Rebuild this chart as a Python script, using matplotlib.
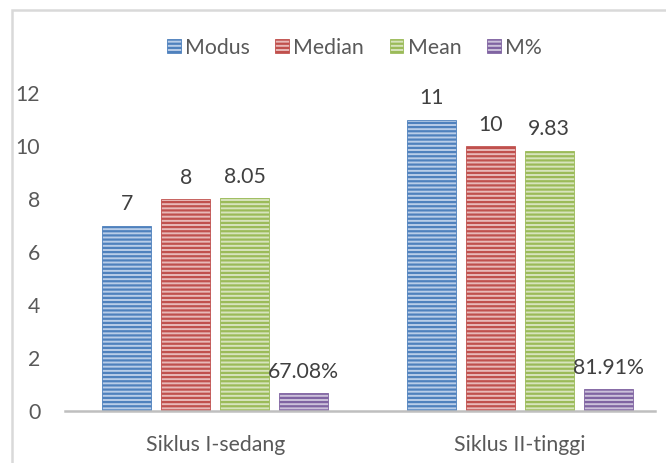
import matplotlib
matplotlib.use("Agg")
import matplotlib.pyplot as plt
from matplotlib.patches import Rectangle
import numpy as np

categories = ["Siklus I-sedang", "Siklus II-tinggi"]
series = ["Modus", "Median", "Mean", "M%"]
modus = [7, 11]
median = [8, 10]
mean = [8.05, 9.83]
m_pct = [0.6708, 0.8191]
labels = [["7", "11"], ["8", "10"], ["8.05", "9.83"], ["67.08%", "81.91%"]]
yticks = [0, 2, 4, 6, 8, 10, 12]

dark = ["#4F81BD", "#C0504D", "#9BBB59", "#8064A2"]
light = ["#B9CDE8", "#E8B9B8", "#D7E4BD", "#CCC1DA"]

plt.rcParams['font.family'] = ['Lato', 'DejaVu Sans']
plt.rcParams['hatch.linewidth'] = 1.6

fs = 15.3
fig = plt.figure(figsize=(6.66, 4.63), dpi=100)
ax = fig.add_axes([0.098, 0.112, 0.885, 0.687])

x = np.arange(len(categories))
vals = [modus, median, mean, m_pct]
w = 0.16
step = 0.1935
handles = []
for i, v in enumerate(vals):
    pos = x + (i - 1.5) * step
    bars = ax.bar(pos, v, width=w, color=light[i], edgecolor=dark[i],
                  hatch='----', linewidth=0.6, label=series[i])
    handles.append(bars)
    for p, val, lab in zip(pos, v, labels[i]):
        ax.annotate(lab, (p, val), xytext=(0, 8), textcoords='offset points',
                    ha='center', va='bottom', fontsize=fs, color='#404040')

ax.set_xlim(-0.492, 1.443)
ax.set_ylim(0, 12)
ax.set_yticks(yticks)
ax.set_xticks(x)
ax.set_xticklabels(categories)
for s in ['top', 'right', 'left']:
    ax.spines[s].set_visible(False)
ax.spines['bottom'].set_color('#BFBFBF')
ax.spines['bottom'].set_linewidth(1.8)
ax.tick_params(axis='both', length=0, labelsize=fs, colors='#595959')
ax.tick_params(axis='x', pad=17)
ax.tick_params(axis='y', pad=18)

leg = fig.legend(handles=handles, labels=series, loc='center', ncol=4,
                 bbox_to_anchor=(0.532, 0.897), frameon=False, fontsize=fs,
                 handlelength=0.65, handleheight=0.65, handletextpad=0.2,
                 columnspacing=1.2, labelcolor='#595959')

fig.patches.append(Rectangle((12/666, -0.1), 1.2, (463-10)/463 + 0.1,
                             transform=fig.transFigure, fill=False,
                             edgecolor='#D9D9D9', linewidth=1.8))

fig.savefig("out.png", dpi=100)
